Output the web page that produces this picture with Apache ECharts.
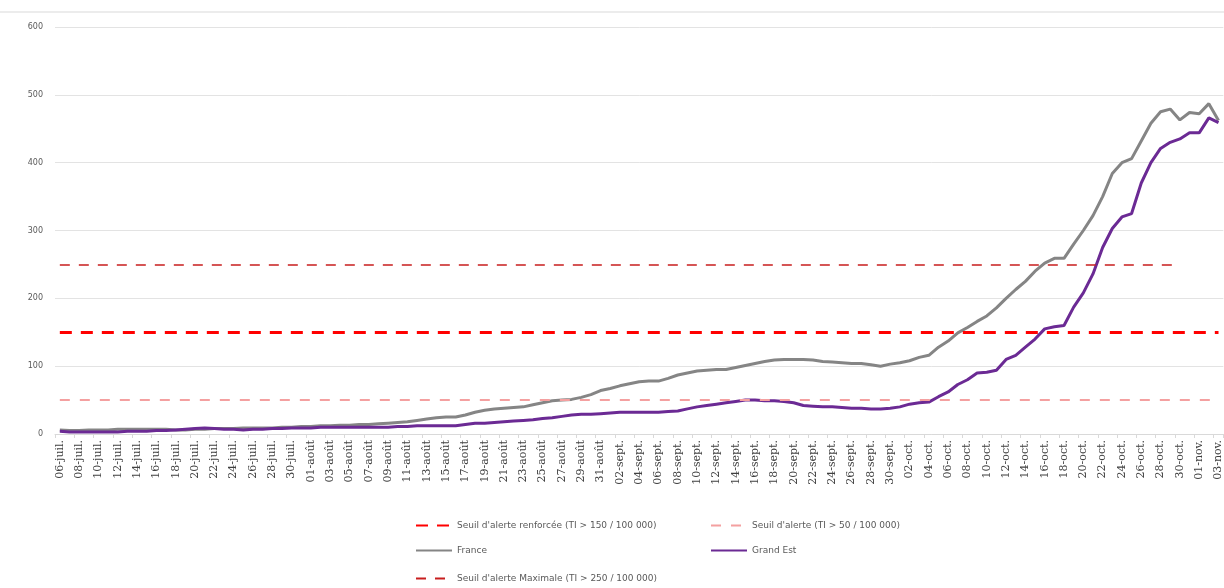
<!DOCTYPE html>
<html>
<head>
<meta charset="utf-8">
<script src="https://cdn.jsdelivr.net/npm/echarts@6/dist/echarts.min.js"></script>
<style>
html,body{margin:0;padding:0;background:#fff;}
#chart{width:1224px;height:588px;}
</style>
</head>
<body>
<div id="chart"></div>
<script>
const dates = [
"06-juil.","07-juil.","08-juil.","09-juil.","10-juil.","11-juil.","12-juil.","13-juil.","14-juil.","15-juil.",
"16-juil.","17-juil.","18-juil.","19-juil.","20-juil.","21-juil.","22-juil.","23-juil.","24-juil.","25-juil.",
"26-juil.","27-juil.","28-juil.","29-juil.","30-juil.","31-juil.",
"01-août","02-août","03-août","04-août","05-août","06-août","07-août","08-août","09-août","10-août",
"11-août","12-août","13-août","14-août","15-août","16-août","17-août","18-août","19-août","20-août",
"21-août","22-août","23-août","24-août","25-août","26-août","27-août","28-août","29-août","30-août","31-août",
"01-sept.","02-sept.","03-sept.","04-sept.","05-sept.","06-sept.","07-sept.","08-sept.","09-sept.","10-sept.",
"11-sept.","12-sept.","13-sept.","14-sept.","15-sept.","16-sept.","17-sept.","18-sept.","19-sept.","20-sept.",
"21-sept.","22-sept.","23-sept.","24-sept.","25-sept.","26-sept.","27-sept.","28-sept.","29-sept.","30-sept.",
"01-oct.","02-oct.","03-oct.","04-oct.","05-oct.","06-oct.","07-oct.","08-oct.","09-oct.","10-oct.",
"11-oct.","12-oct.","13-oct.","14-oct.","15-oct.","16-oct.","17-oct.","18-oct.","19-oct.","20-oct.",
"21-oct.","22-oct.","23-oct.","24-oct.","25-oct.","26-oct.","27-oct.","28-oct.","29-oct.","30-oct.","31-oct.",
"01-nov.","02-nov.","03-nov."
];

const france = [
6,5,5,6,6,6,7,7,7,7,7,7,6,6,7,7,8,8,8,9,9,9,9,10,10,
11,11,12,12,13,13,14,14,15,16,
17,18,20,22,24,25,25,28,32,35,37,38,39,40,43,46,49,50,51,54,58,64,67,71,74,77,
78,78,82,87,90,93,94,95,95,98,101,104,107,109,110,110,110,109,107,106,105,104,104,102,100,103,
105,108,113,116,128,137,149,157,166,174,186,200,213,225,240,252,259,259,280,300,322,350,384,400,406,432,458,475,479,463,474,472,487,462
];

const grandEst = [
4,3,3,3,3,3,3,4,4,4,5,5,6,7,8,9,8,7,7,6,7,7,8,8,9,
9,9,10,10,10,10,10,10,10,10,
11,11,12,12,12,12,12,14,16,16,17,18,19,20,21,23,24,26,28,29,29,30,31,32,32,32,
32,32,33,34,37,40,42,44,46,48,50,50,49,49,48,46,42,41,40,40,39,38,38,37,37,38,
40,44,46,47,55,62,73,80,90,91,94,110,116,128,140,155,158,160,187,208,236,275,303,320,325,370,400,421,430,435,444,444,466,459
];

// thresholds: [value, first category index, last category index]
const seuilRenforce = [150, 0, 120];
const seuilAlerte = [50, 0, 120];
const seuilMaximal = [250, 0, 116];

const names = {
  renf: "Seuil d'alerte renforcée (TI > 150 / 100 000)",
  alerte: "Seuil d'alerte (TI > 50 / 100 000)",
  france: "France",
  ge: "Grand Est",
  max: "Seuil d'alerte Maximale (TI > 250 / 100 000)"
};

function thresholdSeries(name, t, color, width, dash) {
  return {
    name: name, type: 'line', data: [], symbol: 'none',
    lineStyle: {color: color, width: width, type: dash},
    itemStyle: {color: color},
    markLine: {
      silent: true, symbol: ['none','none'], animation: false,
      label: {show: false},
      lineStyle: {color: color, width: width, type: dash},
      data: [[{coord: [t[1], t[0]]}, {coord: [t[2], t[0]]}]]
    }
  };
}

const legendText = {color: '#595959', fontSize: 9, fontFamily: 'DejaVu Sans'};
function lg(name, left, top) {
  return {data: [name], left: left, top: top, itemWidth: 36, itemHeight: 10, itemGap: 0,
    textStyle: legendText, selectedMode: false, itemStyle: {opacity: 0}};
}

const chart = echarts.init(document.getElementById('chart'));
chart.setOption({
  animation: false,
  backgroundColor: '#ffffff',
  graphic: [{type: 'line', shape: {x1: 0, y1: 12, x2: 1224, y2: 12}, style: {stroke: '#d9d9d9', lineWidth: 1}}],
  grid: {left: 55, right: 0, top: 27, bottom: 154},
  legend: [
    lg(names.renf, 410, 516),
    lg(names.alerte, 705, 516),
    lg(names.france, 410, 541),
    lg(names.ge, 705, 541),
    lg(names.max, 410, 569)
  ],
  xAxis: {
    type: 'category', data: dates, boundaryGap: true,
    axisLine: {lineStyle: {color: '#d9d9d9'}},
    axisTick: {show: true, interval: 1, lineStyle: {color: '#d9d9d9'}, length: 4},
    axisLabel: {interval: 1, rotate: 90, fontSize: 11, fontFamily: 'DejaVu Serif', color: '#404040', margin: 6}
  },
  yAxis: {
    type: 'value', min: 0, max: 600, interval: 100,
    axisLine: {show: false}, axisTick: {show: false},
    axisLabel: {fontSize: 8, fontFamily: 'DejaVu Sans', color: '#595959', margin: 12},
    splitLine: {lineStyle: {color: '#e3e3e3', width: 1}}
  },
  series: [
    thresholdSeries(names.renf, seuilRenforce, '#ff0000', 3, [12, 9]),
    thresholdSeries(names.alerte, seuilAlerte, '#f4a0a0', 2, [10, 10]),
    {name: names.france, type: 'line', data: france, symbol: 'none', lineStyle: {color: '#858585', width: 3}, itemStyle: {color: '#858585'}, z: 3},
    {name: names.ge, type: 'line', data: grandEst, symbol: 'none', lineStyle: {color: '#6b2a94', width: 3}, itemStyle: {color: '#6b2a94'}, z: 4},
    thresholdSeries(names.max, seuilMaximal, '#c81e1e', 1.5, [10, 9])
  ]
});
</script>
</body>
</html>
